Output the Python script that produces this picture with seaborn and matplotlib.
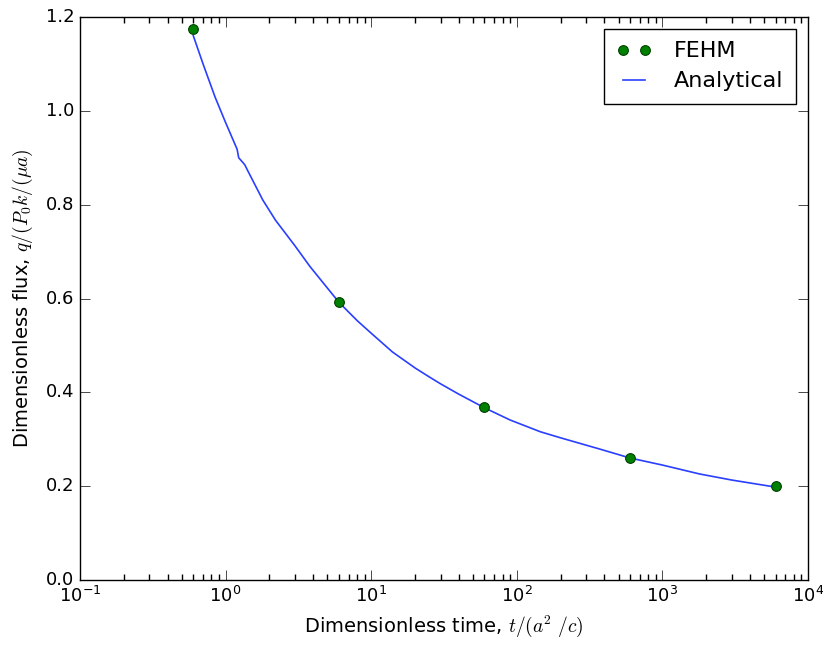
import matplotlib
matplotlib.use("Agg")
import matplotlib.pyplot as plt
from matplotlib.ticker import NullFormatter, FixedLocator
import seaborn as sns
import pandas as pd

# FEHM simulation points
fehm_t = [0.6, 6, 60, 600, 6000]
fehm_q = [1.175, 0.593, 0.369, 0.260, 0.200]

# Analytical solution
ana_t = [0.6, 0.7, 0.845, 1.0, 1.2, 1.23, 1.33, 1.36, 1.4, 1.8, 2.2, 3.0, 3.8, 6.0, 8.0, 10, 14, 20, 25,
         30, 40, 60, 90, 145, 200, 372, 600, 1000, 1800, 3000, 6000]
ana_q = [1.16, 1.10, 1.03, 0.975, 0.918, 0.900, 0.888, 0.884, 0.876, 0.81, 0.767, 0.712, 0.668, 0.592,
         0.553, 0.526, 0.486, 0.452, 0.433, 0.418, 0.396, 0.367, 0.341, 0.316, 0.303, 0.279, 0.260,
         0.245, 0.226, 0.213, 0.198]

x_ticks = [0.1, 1, 10, 100, 1000, 10000]
y_ticks = [0.0, 0.2, 0.4, 0.6, 0.8, 1.0, 1.2]

plt.style.use("classic")
plt.rcParams["figure.facecolor"] = "white"
plt.rcParams["savefig.facecolor"] = "white"
plt.rcParams["xtick.minor.visible"] = True
plt.rcParams["xtick.minor.size"] = 4
plt.rcParams["xtick.minor.width"] = 1
plt.rcParams["xtick.major.size"] = 7
plt.rcParams["ytick.major.size"] = 7

fig = plt.figure(figsize=(8.23, 6.48), dpi=100)
ax = fig.add_axes([80 / 823, 1 - 580 / 648, 728 / 823, 563 / 648])

df_f = pd.DataFrame({"t": fehm_t, "q": fehm_q})
df_a = pd.DataFrame({"t": ana_t, "q": ana_q})

sns.lineplot(data=df_f, x="t", y="q", ax=ax, marker="o", linestyle="", color="green",
             markersize=7, markeredgecolor="#004000", markeredgewidth=0.8, label="FEHM",
             sort=False, zorder=3)
sns.lineplot(data=df_a, x="t", y="q", ax=ax, color="#2a3fff", linewidth=1.2,
             label="Analytical", sort=False, zorder=2)

ax.set_xscale("log")
ax.set_xlim(0.1, 10000)
ax.set_ylim(0.0, 1.2)
ax.set_yticks(y_ticks)
ax.set_yticklabels([f"{v:.1f}" for v in y_ticks])
ax.set_xticks(x_ticks)
minor_x = [m * d for d in x_ticks[:-1] for m in range(2, 10)]
ax.set_xticks(minor_x, minor=True)
ax.xaxis.set_minor_formatter(NullFormatter())

ax.set_xlabel(r"Dimensionless time, $t/(a^2\ /c)$", fontsize=14, labelpad=6)
ax.set_ylabel(r"Dimensionless flux, $q/(P_0k/(\mu a)$", fontsize=14, labelpad=8)
ax.tick_params(axis="both", which="major", labelsize=13, direction="in",
               top=True, right=True)
ax.tick_params(axis="x", which="minor", direction="in", top=True, bottom=True,
               length=4, width=1, color="black")
for s in ax.spines.values():
    s.set_linewidth(1.0)

leg = ax.legend(loc="upper right", numpoints=2, fontsize=16, frameon=True, fancybox=False,
                handlelength=1.6, borderaxespad=0.55, borderpad=0.55, labelspacing=0.45,
                handletextpad=1.0)
leg.get_frame().set_linewidth(1.0)

fig.savefig("out.png", dpi=100)
